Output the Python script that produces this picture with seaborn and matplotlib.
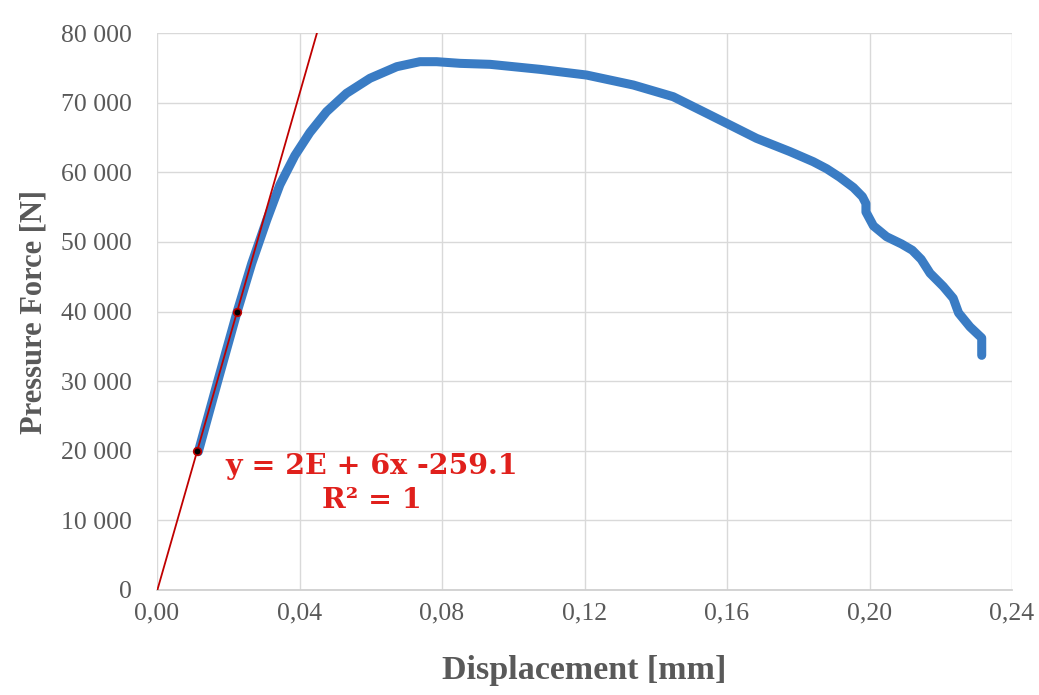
import numpy as np
import pandas as pd
import matplotlib
matplotlib.use("Agg")
import matplotlib.pyplot as plt
import seaborn as sns

# ---- data ----
displacement_mm = [0.0116, 0.0170, 0.0225, 0.0266, 0.0308, 0.0345, 0.0387, 0.0429,
                   0.0476, 0.0532, 0.0598, 0.0673, 0.0738, 0.0785, 0.0851, 0.0935,
                   0.1075, 0.1206, 0.1337, 0.1449, 0.1543, 0.1618, 0.1683, 0.1777,
                   0.1842, 0.1880, 0.1916, 0.1955, 0.1980, 0.1990, 0.1990, 0.2011,
                   0.2048, 0.2090, 0.2120, 0.2145, 0.2170, 0.2207, 0.2235, 0.2250,
                   0.2282, 0.2315, 0.2315]
force_N = [19860, 29900, 39970, 46920, 53140, 58200, 62400, 65700,
           68700, 71340, 73500, 75160, 75880, 75880, 75640, 75500,
           74780, 73960, 72530, 70850, 68460, 66540, 64870, 62960,
           61520, 60500, 59300, 57800, 56500, 55500, 54300, 52300,
           50740, 49700, 48800, 47500, 45500, 43600, 41900, 39800,
           37800, 36200, 33700]

fit_points_x = [0.0113, 0.0225]
fit_points_y = [20000, 40000]

x_ticks = [0.00, 0.04, 0.08, 0.12, 0.16, 0.20, 0.24]
x_tick_labels = ["0,00", "0,04", "0,08", "0,12", "0,16", "0,20", "0,24"]
y_ticks = [0, 10000, 20000, 30000, 40000, 50000, 60000, 70000, 80000]
y_tick_labels = ["0", "10 000", "20 000", "30 000", "40 000", "50 000",
                 "60 000", "70 000", "80 000"]

equation_text = "y = 2E + 6x -259.1"
r2_text = "R² = 1"
x_label = "Displacement [mm]"
y_label = "Pressure Force [N]"

# ---- styling ----
sns.set_theme(style="white")
plt.rcParams["font.family"] = ["Liberation Serif", "DejaVu Serif"]

grey_text = "#595959"
blue = "#3a7cc4"
line_red = "#c00000"
text_red = "#e0201c"

fig = plt.figure(figsize=(10.39, 6.95), dpi=100)
ax = fig.add_axes([157 / 1039, 105 / 695, (1012 - 157) / 1039, (590 - 33) / 695])

curve = pd.DataFrame({"d": displacement_mm, "f": force_N})

# linear trendline fitted through the two marked points
slope, intercept = np.polyfit(fit_points_x, fit_points_y, 1)
trend_x = np.array([0.0, (80000 - intercept) / slope])
trend = pd.DataFrame({"d": trend_x, "f": slope * trend_x + intercept})

sns.lineplot(data=curve, x="d", y="f", sort=False, estimator=None, color=blue,
             linewidth=6.5, solid_capstyle="round", solid_joinstyle="round",
             ax=ax, zorder=3)
sns.lineplot(data=trend, x="d", y="f", sort=False, estimator=None, color=line_red,
             linewidth=1.3, ax=ax, zorder=4)
sns.scatterplot(x=fit_points_x, y=fit_points_y, color="black", edgecolor=line_red,
                s=30, linewidth=1.2, ax=ax, zorder=5)

ax.set_xlim(0, 0.24)
ax.set_ylim(0, 80000)
ax.set_xticks(x_ticks)
ax.set_xticklabels(x_tick_labels)
ax.set_yticks(y_ticks)
ax.set_yticklabels(y_tick_labels)
ax.tick_params(axis="both", length=0, labelsize=18.5, labelcolor=grey_text)
ax.tick_params(axis="x", pad=9)
ax.tick_params(axis="y", pad=18)

ax.grid(True, color="#d9d9d9", linewidth=1.0)
ax.set_axisbelow(True)
for side in ["top", "right", "left"]:
    ax.spines[side].set_visible(False)
ax.spines["bottom"].set_color("#d0d0d0")
ax.spines["bottom"].set_linewidth(1.3)

ax.set_xlabel(x_label, fontsize=24.5, fontweight="bold", color=grey_text, labelpad=22)
ax.set_ylabel(y_label, fontsize=22, fontweight="bold", color=grey_text, labelpad=9)

ax.text(0.0604, 17700, equation_text, ha="center", va="center", fontsize=20.5,
        fontweight="bold", color=text_red, family=["DejaVu Serif"], zorder=6)
ax.text(0.0604, 12900, r2_text, ha="center", va="center", fontsize=20.5,
        fontweight="bold", color=text_red, family=["DejaVu Serif"], zorder=6)

fig.savefig("out.png", dpi=100, facecolor="white")
